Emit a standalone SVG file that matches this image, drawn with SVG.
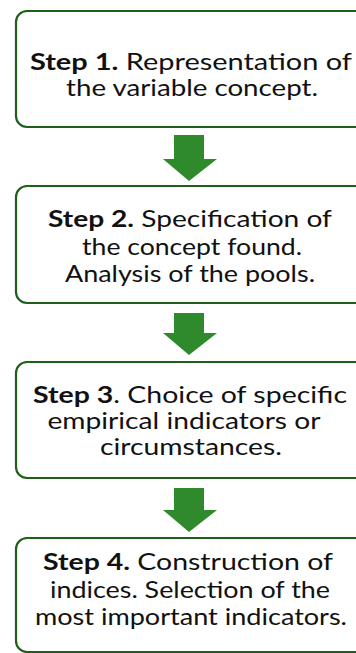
<svg xmlns="http://www.w3.org/2000/svg" width="356" height="653" viewBox="0 0 356 653">
<style>
.box{fill:#ffffff;stroke:#1f5f1a;stroke-width:2.2}
.t{font-family:Lato,"Open Sans","DejaVu Sans",sans-serif;font-size:23px;fill:#111111;text-anchor:middle}
.b{font-weight:bold}
.arr{fill:#2f8a2c}
</style>
<rect width="356" height="653" fill="#ffffff"/>
<g id="step1">
<rect class="box" x="16" y="11" width="352" height="116" rx="11"/>
<text class="t" x="191" y="70" textLength="322" lengthAdjust="spacingAndGlyphs"><tspan class="b">Step 1.</tspan> Representation of</text>
<text class="t" x="192" y="96" textLength="252" lengthAdjust="spacingAndGlyphs">the variable concept.</text>
</g>
<g id="step2">
<rect class="box" x="16" y="186" width="352" height="117" rx="11"/>
<text class="t" x="190" y="227" textLength="284" lengthAdjust="spacingAndGlyphs"><tspan class="b">Step 2.</tspan> Specification of</text>
<text class="t" x="192" y="255" textLength="220" lengthAdjust="spacingAndGlyphs">the concept found.</text>
<text class="t" x="190" y="282" textLength="250" lengthAdjust="spacingAndGlyphs">Analysis of the pools.</text>
</g>
<g id="step3">
<rect class="box" x="16" y="362" width="352" height="116" rx="11"/>
<text class="t" x="190" y="403" textLength="314" lengthAdjust="spacingAndGlyphs"><tspan class="b">Step 3</tspan>. Choice of specific</text>
<text class="t" x="184" y="429" textLength="273" lengthAdjust="spacingAndGlyphs">empirical indicators or</text>
<text class="t" x="191" y="455" textLength="182" lengthAdjust="spacingAndGlyphs">circumstances.</text>
</g>
<g id="step4">
<rect class="box" x="16" y="538" width="352" height="114" rx="11"/>
<text class="t" x="188" y="570" textLength="290" lengthAdjust="spacingAndGlyphs"><tspan class="b">Step 4.</tspan> Construction of</text>
<text class="t" x="190" y="598" textLength="280" lengthAdjust="spacingAndGlyphs">indices. Selection of the</text>
<text class="t" x="191" y="625" textLength="312" lengthAdjust="spacingAndGlyphs">most important indicators.</text>
</g>
<g id="connectors">
<polygon class="arr" points="174,135 204,135 204,159 217,159 189,181 163,159 174,159"/>
<polygon class="arr" points="174,313 204,313 204,333 217,333 189,355 163,333 174,333"/>
<polygon class="arr" points="174,488 204,488 204,510 217,510 189,532 163,510 174,510"/>
</g>
</svg>
